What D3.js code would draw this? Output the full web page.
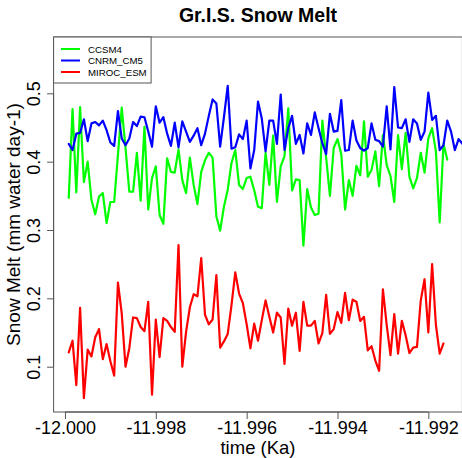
<!DOCTYPE html>
<html><head><meta charset="utf-8">
<script src="https://cdn.jsdelivr.net/npm/d3@7"></script>
<style>body{margin:0;background:#fff}svg{display:block}text{font-family:"Liberation Sans",Arial,sans-serif}</style>
</head><body>
<script>
const seriesNames = ["CCSM4", "CNRM_CM5", "MIROC_ESM"];
const seriesColors = ["#00ff00", "#0000ff", "#ff0000"];
const ccsm4 = [0.347,0.477,0.355,0.480,0.370,0.400,0.344,0.323,0.349,0.354,0.310,0.341,0.341,0.410,0.479,0.420,0.356,0.356,0.413,0.343,
0.451,0.330,0.376,0.393,0.322,0.309,0.405,0.385,0.384,0.418,0.373,0.354,0.406,0.366,0.338,0.385,0.402,0.413,0.406,0.320,
0.299,0.334,0.359,0.398,0.417,0.366,0.360,0.376,0.378,0.358,0.334,0.332,0.413,0.366,0.438,0.341,0.393,0.408,0.478,0.358,
0.374,0.373,0.277,0.360,0.333,0.322,0.324,0.460,0.406,0.350,0.420,0.433,0.411,0.330,0.373,0.350,0.394,0.380,0.459,0.378,
0.388,0.415,0.364,0.439,0.395,0.379,0.341,0.439,0.389,0.442,0.378,0.361,0.376,0.413,0.384,0.434,0.449,0.415,0.311,0.426,0.403];
const cnrm = [0.426,0.417,0.441,0.442,0.462,0.430,0.456,0.458,0.453,0.460,0.446,0.428,0.423,0.474,0.434,0.424,0.434,0.458,0.452,0.466,
0.465,0.444,0.422,0.481,0.457,0.465,0.441,0.423,0.457,0.421,0.459,0.444,0.429,0.438,0.449,0.424,0.441,0.467,0.491,0.485,
0.422,0.465,0.511,0.419,0.421,0.440,0.433,0.460,0.390,0.417,0.488,0.463,0.415,0.460,0.460,0.426,0.498,0.417,0.449,0.467,
0.426,0.439,0.412,0.456,0.439,0.472,0.449,0.427,0.411,0.470,0.444,0.445,0.490,0.416,0.417,0.460,0.431,0.420,0.416,0.420,
0.456,0.432,0.430,0.422,0.481,0.418,0.509,0.450,0.449,0.462,0.429,0.462,0.456,0.432,0.444,0.501,0.461,0.467,0.417,0.424,
0.460,0.444,0.417,0.433,0.426];
const miroc = [0.121,0.138,0.073,0.186,0.054,0.125,0.115,0.143,0.155,0.111,0.133,0.108,0.087,0.223,0.178,0.100,0.127,0.172,0.171,0.158,
0.152,0.195,0.059,0.169,0.114,0.171,0.167,0.158,0.151,0.278,0.100,0.151,0.187,0.206,0.203,0.259,0.176,0.162,0.169,0.234,
0.128,0.137,0.148,0.190,0.238,0.207,0.193,0.162,0.127,0.163,0.138,0.168,0.197,0.173,0.150,0.179,0.172,0.104,0.185,0.160,
0.179,0.123,0.195,0.160,0.160,0.167,0.134,0.149,0.205,0.148,0.155,0.180,0.164,0.208,0.168,0.198,0.195,0.167,0.173,0.124,
0.130,0.109,0.094,0.213,0.161,0.117,0.177,0.119,0.167,0.146,0.120,0.128,0.129,0.197,0.228,0.150,0.250,0.161,0.119,0.134];
const startKa = -12.0;
const monthKa = 1/12000;
const xTicks = [-12.000, -11.998, -11.996, -11.994, -11.992];
const yTicks = [0.1, 0.2, 0.3, 0.4, 0.5];
const yDomain = [0.0337, 0.5824];
const title = "Gr.I.S. Snow Melt";
const xTitle = "time (Ka)";
const yTitle = "Snow Melt (mm water day-1)";

const W = 462, H = 458;
const plot = {left: 53.6, right: 462.4, top: 37, bottom: 412};
const svg = d3.select("body").append("svg").attr("width", W).attr("height", H);

const timeOf = i => startKa + (i + 1) * monthKa;
const series = [ccsm4, cnrm, miroc].map((vals, s) => ({
  name: seriesNames[s], color: seriesColors[s],
  pts: vals.map((v, i) => [timeOf(i), v])
}));
const ext = d3.extent(series[0].pts, d => d[0]);
const pad = (ext[1] - ext[0]) * 0.04;
const x = d3.scaleLinear().domain([ext[0] - pad, ext[1] + pad]).range([plot.left, plot.right]);
const y = d3.scaleLinear().domain(yDomain).range([plot.bottom, plot.top]);

svg.append("defs").append("clipPath").attr("id", "clip")
  .append("rect").attr("x", plot.left).attr("y", plot.top)
  .attr("width", plot.right - plot.left).attr("height", plot.bottom - plot.top);

const line = d3.line().x(d => x(d[0])).y(d => y(d[1]));
const g = svg.append("g").attr("clip-path", "url(#clip)");
series.forEach(s => {
  g.append("path").datum(s.pts).attr("d", line)
    .attr("fill", "none").attr("stroke", s.color).attr("stroke-width", 2.2)
    .attr("stroke-linejoin", "round").attr("stroke-linecap", "round");
});

// box
svg.append("rect").attr("x", plot.left).attr("y", plot.top)
  .attr("width", plot.right - plot.left).attr("height", plot.bottom - plot.top)
  .attr("fill", "none").attr("stroke", "#555").attr("stroke-width", 1);

// x axis
const xa = svg.append("g").attr("transform", `translate(0,${plot.bottom})`)
  .call(d3.axisBottom(x).tickValues(xTicks).tickFormat(d3.format(".3f")).tickSize(7).tickSizeOuter(0));
xa.select(".domain").attr("d", `M${x(xTicks[0])},0H${x(xTicks[xTicks.length-1])}`).attr("stroke", "#555");
xa.selectAll(".tick line").attr("stroke", "#555");
xa.selectAll(".tick text").attr("font-size", "18px").attr("fill", "#000").attr("dy", null).attr("y", 22)
  .text(d => d3.format(".3f")(d).replace("−", "-"));

// y axis
const ya = svg.append("g").attr("transform", `translate(${plot.left},0)`)
  .call(d3.axisLeft(y).tickValues(yTicks).tickFormat(d3.format(".1f")).tickSize(6.5).tickSizeOuter(0));
ya.select(".domain").attr("d", `M0,${y(yTicks[0])}V${y(yTicks[yTicks.length-1])}`).attr("stroke", "#555");
ya.selectAll(".tick line").attr("stroke", "#555");
ya.selectAll(".tick text").attr("font-size", "18px").attr("fill", "#000")
  .attr("x", null).attr("dy", null).attr("text-anchor", "middle")
  .attr("transform", "translate(-13.5,0) rotate(-90)");

// titles
svg.append("text").attr("x", (plot.left + plot.right) / 2).attr("y", 21.7)
  .attr("text-anchor", "middle").attr("font-size", "19.5px").attr("font-weight", "bold").text(title);
svg.append("text").attr("x", (plot.left + plot.right) / 2).attr("y", 454)
  .attr("text-anchor", "middle").attr("font-size", "18.5px").text(xTitle);
svg.append("text").attr("transform", `translate(19.5,${(plot.top + plot.bottom) / 2}) rotate(-90)`)
  .attr("text-anchor", "middle").attr("font-size", "19px").text(yTitle);

// legend
const lg = svg.append("g");
lg.append("rect").attr("x", plot.left).attr("y", plot.top).attr("width", 97.5).attr("height", 46)
  .attr("fill", "#fff").attr("stroke", "#555").attr("stroke-width", 1);
series.forEach((s, i) => {
  const cy = 49 + i * 11.5;
  lg.append("line").attr("x1", 61).attr("x2", 80).attr("y1", cy).attr("y2", cy)
    .attr("stroke", s.color).attr("stroke-width", 2);
  lg.append("text").attr("x", 88).attr("y", cy + 3.5).attr("font-size", "9.7px").text(s.name);
});
</script>
</body></html>
